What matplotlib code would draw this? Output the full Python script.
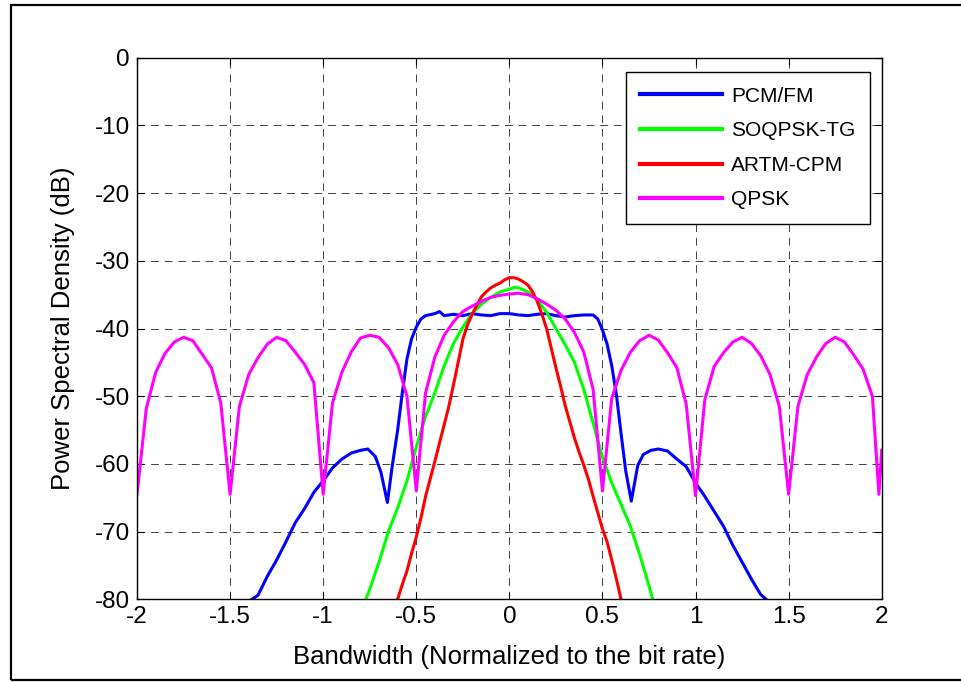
import matplotlib
matplotlib.use('Agg')
import matplotlib.pyplot as plt
from matplotlib.patches import Rectangle

plt.rcParams['font.family'] = ['Liberation Sans', 'DejaVu Sans']
plt.rcParams['axes.unicode_minus'] = False

# PSD curves (x normalized to bit rate, y in dB)
pcm_x = [-1.40, -1.35, -1.30, -1.25, -1.20, -1.15, -1.10, -1.05, -1.00, -0.95,
         -0.90, -0.85, -0.80, -0.76, -0.72, -0.69, -0.655, -0.63, -0.60, -0.575,
         -0.55, -0.525, -0.50, -0.475, -0.45, -0.40, -0.375, -0.35, -0.30, -0.25,
         -0.20, -0.15, -0.10, -0.05, 0.00, 0.05, 0.10, 0.15, 0.20, 0.25,
         0.30, 0.35, 0.40, 0.45, 0.475, 0.50, 0.525, 0.55, 0.575, 0.60,
         0.625, 0.655, 0.69, 0.72, 0.76, 0.80, 0.85, 0.90, 0.95, 1.00,
         1.05, 1.10, 1.15, 1.20, 1.25, 1.30, 1.35, 1.40]
pcm_y = [-80.3, -79.4, -76.6, -74.2, -71.5, -68.7, -66.6, -64.2, -62.5, -60.6,
         -59.3, -58.4, -58.0, -57.8, -58.9, -61.2, -65.7, -60.5, -55.0, -49.5,
         -44.5, -41.5, -39.8, -38.6, -38.1, -37.8, -37.5, -38.1, -37.9, -38.1,
         -37.8, -38.0, -38.1, -37.8, -37.8, -38.0, -38.1, -37.9, -37.8, -38.1,
         -38.3, -38.1, -38.0, -38.0, -38.6, -40.2, -42.3, -45.5, -49.8, -55.5,
         -61.0, -65.5, -60.2, -58.6, -58.0, -57.8, -58.1, -59.3, -60.4, -62.8,
         -64.8, -67.0, -69.2, -72.0, -74.5, -77.0, -79.3, -80.5]

soqpsk_x = [-0.77, -0.75, -0.70, -0.65, -0.60, -0.55, -0.50, -0.45, -0.40, -0.35,
            -0.30, -0.25, -0.20, -0.15, -0.10, -0.05, 0.00, 0.03, 0.05, 0.10,
            0.15, 0.20, 0.25, 0.30, 0.35, 0.40, 0.45, 0.50, 0.55, 0.60,
            0.65, 0.70, 0.75, 0.77]
soqpsk_y = [-80.0, -78.5, -74.5, -70.0, -66.5, -62.5, -57.5, -53.0, -49.5, -45.5,
            -42.2, -39.8, -37.8, -36.4, -35.4, -34.6, -34.2, -33.9, -34.0, -34.6,
            -35.8, -37.6, -40.0, -42.4, -45.0, -49.0, -54.0, -59.0, -62.8, -66.0,
            -69.2, -73.4, -78.0, -80.0]

artm_x = [-0.60, -0.575, -0.55, -0.525, -0.50, -0.475, -0.45, -0.425, -0.40, -0.375,
          -0.35, -0.325, -0.30, -0.275, -0.25, -0.225, -0.20, -0.175, -0.15, -0.125,
          -0.10, -0.075, -0.05, -0.025, 0.00, 0.025, 0.05, 0.075, 0.10, 0.125,
          0.15, 0.175, 0.20, 0.225, 0.25, 0.275, 0.30, 0.325, 0.35, 0.375,
          0.40, 0.425, 0.45, 0.475, 0.50, 0.525, 0.55, 0.575, 0.60]
artm_y = [-80.0, -77.8, -75.8, -73.2, -70.8, -68.0, -64.8, -62.2, -59.6, -56.9,
          -54.2, -51.5, -48.3, -45.0, -41.6, -39.5, -37.9, -36.6, -35.3, -34.6,
          -34.0, -33.6, -33.3, -32.8, -32.5, -32.5, -32.7, -33.1, -33.6, -34.6,
          -36.0, -37.9, -40.0, -42.9, -45.8, -48.5, -51.4, -53.8, -56.2, -58.3,
          -60.2, -62.3, -64.8, -67.2, -69.6, -71.5, -74.2, -77.0, -80.0]

qpsk_x = [-2.00, -1.95, -1.90, -1.85, -1.80, -1.75, -1.70, -1.65, -1.60, -1.55,
          -1.50, -1.45, -1.40, -1.35, -1.30, -1.25, -1.20, -1.15, -1.10, -1.05,
          -1.00, -0.95, -0.90, -0.85, -0.80, -0.75, -0.70, -0.65, -0.60, -0.55,
          -0.50, -0.45, -0.40, -0.35, -0.30, -0.25, -0.20, -0.15, -0.10, -0.05,
          0.00, 0.05, 0.10, 0.15, 0.20, 0.25, 0.30, 0.35, 0.40, 0.45,
          0.50, 0.55, 0.60, 0.65, 0.70, 0.75, 0.80, 0.85, 0.90, 0.95,
          1.00, 1.05, 1.10, 1.15, 1.20, 1.25, 1.30, 1.35, 1.40, 1.45,
          1.50, 1.55, 1.60, 1.65, 1.70, 1.75, 1.80, 1.85, 1.90, 1.95,
          1.985, 2.00]
qpsk_y = [-64.5, -51.8, -46.5, -43.7, -42.0, -41.3, -41.8, -43.8, -45.8, -51.0,
          -64.5, -51.5, -46.8, -44.3, -42.3, -41.3, -41.8, -43.5, -45.3, -48.0,
          -64.5, -51.0, -46.5, -43.5, -41.4, -41.0, -41.3, -42.8, -45.3, -50.0,
          -64.0, -49.5, -44.2, -41.0, -39.0, -37.5, -36.7, -36.0, -35.4, -35.1,
          -34.9, -34.8, -35.0, -35.6, -36.4, -37.3, -38.6, -40.6, -43.5, -49.0,
          -64.0, -50.3, -46.2, -43.5, -41.8, -41.0, -41.7, -43.6, -45.8, -51.2,
          -64.7, -50.5, -45.6, -43.6, -42.0, -41.3, -42.2, -44.0, -46.8, -51.5,
          -64.5, -51.5, -46.8, -44.2, -42.2, -41.3, -42.0, -43.9, -46.0, -50.0,
          -64.5, -58.0]

x_ticks = [-2, -1.5, -1, -0.5, 0, 0.5, 1, 1.5, 2]
x_tick_labels = ['-2', '-1.5', '-1', '-0.5', '0', '0.5', '1', '1.5', '2']
y_ticks = [0, -10, -20, -30, -40, -50, -60, -70, -80]

fig = plt.figure(figsize=(9.61, 6.82), dpi=100)
# outer border like the exported MATLAB figure
fig.patches.append(Rectangle((11 / 961, 2 / 682), 1.0, 675 / 682, transform=fig.transFigure,
                             fill=False, edgecolor='black', linewidth=1.6))

ax = fig.add_axes([137 / 961, 82.7 / 682, 744.7 / 961, 541.6 / 682])
ax.plot(pcm_x, pcm_y, color='#0000ff', lw=2.2, label='PCM/FM')
ax.plot(soqpsk_x, soqpsk_y, color='#00ff00', lw=2.2, label='SOQPSK-TG')
ax.plot(artm_x, artm_y, color='#ff0000', lw=2.2, label='ARTM-CPM')
ax.plot(qpsk_x, qpsk_y, color='#ff00ff', lw=2.2, label='QPSK')

ax.set_xlim(-2, 2)
ax.set_ylim(-80, 0)
ax.set_xticks(x_ticks)
ax.set_xticklabels(x_tick_labels)
ax.set_yticks(y_ticks)
ax.tick_params(direction='in', top=True, right=True, length=5, labelsize=17.5, pad=5)
ax.grid(True, color='black', linestyle=(0, (8, 6)), linewidth=0.7, alpha=0.75)
for s in ax.spines.values():
    s.set_linewidth(1.0)

ax.set_xlabel('Bandwidth (Normalized to the bit rate)', fontsize=18.5, labelpad=12)
ax.set_ylabel('Power Spectral Density (dB)', fontsize=18.5, labelpad=14)

leg = ax.legend(loc='upper right', bbox_to_anchor=(0.984, 0.9736), borderaxespad=0,
                fontsize=15, fancybox=False, edgecolor='black', framealpha=1,
                handlelength=3.9, handletextpad=0.45, labelspacing=0.75, borderpad=0.7)
leg.get_frame().set_linewidth(1.0)
for h in leg.get_lines():
    h.set_linewidth(3.0)

plt.savefig('out.png', dpi=100)
